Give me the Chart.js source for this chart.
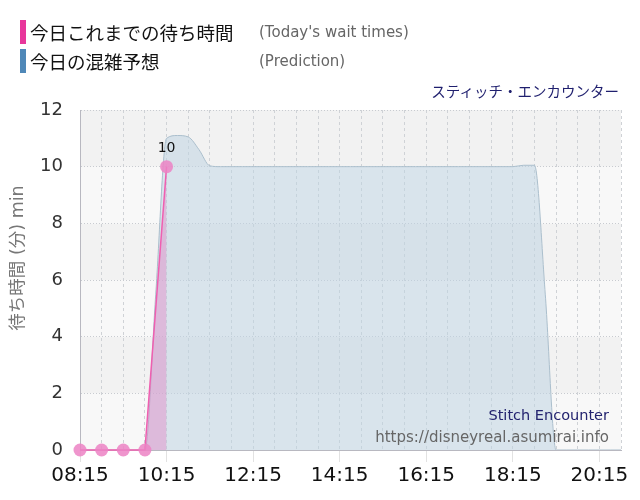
<!DOCTYPE html>
<html>
<head>
<meta charset="utf-8">
<script src="https://cdn.jsdelivr.net/npm/chart.js@4/dist/chart.umd.min.js"></script>
<style>
  html, body { margin: 0; padding: 0; background: #fff; }
  #wrap { position: relative; width: 640px; height: 500px; overflow: hidden; }
  canvas { position: absolute; left: 0; top: 0; }
  .t { position: absolute; white-space: nowrap; line-height: 1; }
  .bar { position: absolute; width: 6px; height: 24px; }
</style>
</head>
<body>
<div id="wrap">
  <canvas id="c" width="640" height="500"></canvas>
  <div class="bar" style="left:20px;top:20px;background:#e8379b;"></div>
  <div class="t" style="left:30px;top:19px;font:18.5px 'Noto Sans CJK JP';color:#111;">今日これまでの待ち時間</div>
  <div class="t" style="left:259px;top:23px;font:15px 'DejaVu Sans';color:#666;">(Today's wait times)</div>
  <div class="bar" style="left:20px;top:49px;background:#4f88b8;"></div>
  <div class="t" style="left:30px;top:48px;font:18.5px 'Noto Sans CJK JP';color:#111;">今日の混雑予想</div>
  <div class="t" style="left:259px;top:52px;font:15px 'DejaVu Sans';color:#666;">(Prediction)</div>
  <div class="t" style="right:21px;top:80px;font:14.5px 'Noto Sans CJK JP';color:#1f1f6e;">スティッチ・エンカウンター</div>
  <div class="t" style="right:31px;top:407px;font:14.5px 'DejaVu Sans';color:#23236f;">Stitch Encounter</div>
  <div class="t" style="right:31px;top:428px;font:15px 'DejaVu Sans';color:#666;">https://disneyreal.asumirai.info</div>
</div>
<script>
// ---- data ----
const actualTimes  = ['08:15','08:45','09:15','09:45','10:15'];
const actualValues = [0, 0, 0, 0, 10];

const predTimes = ['08:15','08:30','08:45','09:00','09:15','09:30','09:45','10:00','10:15','10:30',
                   '10:45','11:00','11:15','11:30','11:45','12:00','12:15','12:30','12:45','13:00',
                   '13:15','13:30','13:45','14:00','14:15','14:30','14:45','15:00','15:15','15:30',
                   '15:45','16:00','16:15','16:30','16:45','17:00','17:15','17:30','17:45','18:00',
                   '18:15','18:30','18:45','19:00','19:15','19:30','19:45','20:00','20:15','20:30','20:45'];
const predValues = [0, 0, 0, 0, 0, 0, 0, 5.5, 11.0, 11.1,
                    11.05, 10.6, 10.03, 10, 10, 10, 10, 10, 10, 10,
                    10, 10, 10, 10, 10, 10, 10, 10, 10, 10,
                    10, 10, 10, 10, 10, 10, 10, 10, 10, 10,
                    10, 10.05, 10.05, 5.5, 0, 0, 0, 0, 0, 0, 0];

const xTickLabels = ['08:15','10:15','12:15','14:15','16:15','18:15','20:15'];
const yTickValues = [0, 2, 4, 6, 8, 10, 12];
const yTitle = '待ち時間 (分) min';

// ---- helpers ----
const START = 8 * 60 + 15;
function toMin(t) { const [h, m] = t.split(':').map(Number); return h * 60 + m - START; }

const actualData = actualTimes.map((t, i) => ({ x: toMin(t), y: actualValues[i] }));
const predData = predTimes.map((t, i) => ({ x: toMin(t), y: predValues[i] }));

const bandsPlugin = {
  id: 'bands',
  beforeDraw(chart) {
    const { ctx, chartArea: a, scales: { y } } = chart;
    ctx.save();
    for (let i = 0; i < yTickValues.length - 1; i++) {
      const top = y.getPixelForValue(yTickValues[i + 1]);
      const bot = y.getPixelForValue(yTickValues[i]);
      ctx.fillStyle = (i % 2 === 0) ? '#f8f8f8' : '#f2f2f2';
      ctx.fillRect(a.left, top, a.right - a.left, bot - top);
    }
    ctx.restore();
  }
};

const labelPlugin = {
  id: 'labels',
  afterDraw(chart) {
    const { ctx } = chart;
    const meta = chart.getDatasetMeta(0);
    const last = meta.data[meta.data.length - 1];
    ctx.save();
    ctx.font = '14px "DejaVu Sans"';
    ctx.fillStyle = '#111';
    ctx.textAlign = 'center';
    ctx.textBaseline = 'middle';
    ctx.fillText(String(actualValues[actualValues.length - 1]), last.x, last.y - 18);
    // y axis title
    ctx.translate(18, 258);
    ctx.rotate(-Math.PI / 2);
    ctx.font = '17.5px "DejaVu Sans", "Noto Sans CJK JP"';
    ctx.fillStyle = '#777';
    ctx.fillText(yTitle, 0, 0);
    ctx.restore();
  }
};

new Chart(document.getElementById('c'), {
  type: 'line',
  data: {
    datasets: [
      {
        data: actualData,
        borderColor: '#ef5fb0',
        borderWidth: 1.5,
        backgroundColor: 'rgba(226,128,196,0.42)',
        fill: 'origin',
        pointRadius: 6.5,
        pointBackgroundColor: 'rgba(236,130,196,0.85)',
        pointBorderWidth: 0,
        tension: 0,
        clip: false
      },
      {
        data: predData,
        borderColor: '#abbfcd',
        borderWidth: 1,
        backgroundColor: 'rgba(192,211,226,0.55)',
        fill: 'origin',
        pointRadius: 0,
        cubicInterpolationMode: 'monotone'
      }
    ]
  },
  options: {
    responsive: false,
    animation: false,
    layout: { padding: { top: 110, right: 19, left: 0, bottom: 0 } },
    plugins: { legend: { display: false }, tooltip: { enabled: false } },
    scales: {
      x: {
        type: 'linear',
        min: 0,
        max: 750,
        afterFit(s) { s.height = 50; },
        ticks: {
          stepSize: 30,
          autoSkip: false,
          maxRotation: 0,
          padding: 2,
          color: '#111',
          font: { family: 'DejaVu Sans', size: 20 },
          callback: (v) => (v % 120 === 0 ? xTickLabels[v / 120] : '')
        },
        grid: {
          color: '#cfd2d6',
          tickLength: 12,
          tickBorderDash: [],
          tickColor: (ctx) => (ctx.tick && ctx.tick.value % 120 === 0 ? '#e2e2e2' : 'rgba(0,0,0,0)')
        },
        border: { display: true, color: '#b8b8c0', dash: [3, 3] }
      },
      y: {
        min: 0,
        max: 12,
        afterFit(s) { s.width = 80; },
        ticks: {
          stepSize: 2,
          padding: 17,
          color: '#333',
          font: { family: 'DejaVu Sans', size: 18 }
        },
        grid: {
          color: '#c8cbd0',
          drawTicks: false
        },
        border: { display: true, color: '#b8b8c0', dash: [1, 2] }
      }
    }
  },
  plugins: [bandsPlugin, labelPlugin]
});
</script>
</body>
</html>
